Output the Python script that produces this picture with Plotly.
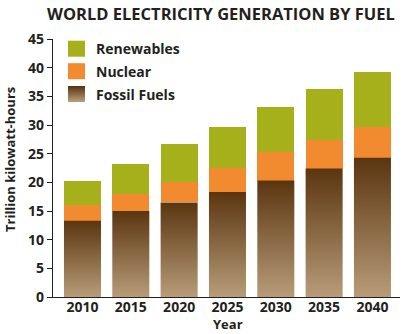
import plotly.graph_objects as go

years = ["2010", "2015", "2020", "2025", "2030", "2035", "2040"]
fossil = [13.3, 15.0, 16.5, 18.3, 20.3, 22.4, 24.3]
nuclear = [2.7, 2.9, 3.5, 4.2, 5.0, 5.0, 5.3]
renewables = [4.2, 5.3, 6.7, 7.2, 7.8, 8.8, 9.6]
yticks = [0, 5, 10, 15, 20, 25, 30, 35, 40, 45]

C_REN = "#a6b01a"
C_NUC = "#f28a30"
C_TOP = "#5a3510"
C_BOT = "#b89c78"
FONT = "Open Sans"
TXT = "#231f20"
W = 0.766

pos = list(range(len(years)))
fig = go.Figure()

# fossil bars with vertical gradient
for i, v in zip(pos, fossil):
    fig.add_trace(go.Scatter(
        x=[i - W / 2, i + W / 2, i + W / 2, i - W / 2, i - W / 2],
        y=[0, 0, v, v, 0],
        mode="lines", line=dict(width=0), fill="toself",
        fillgradient=dict(type="vertical", start=0, stop=v,
                          colorscale=[[0, C_BOT], [1, C_TOP]]),
        showlegend=False, hoverinfo="skip"))

base_n = fossil
fig.add_trace(go.Bar(x=pos, y=nuclear, base=base_n, width=W,
                     marker=dict(color=C_NUC, line=dict(width=0)), showlegend=False))
base_r = [f + n for f, n in zip(fossil, nuclear)]
fig.add_trace(go.Bar(x=pos, y=renewables, base=base_r, width=W,
                     marker=dict(color=C_REN, line=dict(width=0)), showlegend=False))

# plot area in pixels
L, R, T, B = 53, 400, 39, 297
def px(p):
    return (p - L) / (R - L)
def py(p):
    return (B - p) / (B - T)

shapes = []
ann = []
legend_items = [("Renewables", C_REN, 40.7), ("Nuclear", C_NUC, 63.2), ("Fossil Fuels", None, 86.0)]
for name, col, top in legend_items:
    x0, x1 = 68, 85
    h = 16
    if col:
        shapes.append(dict(type="rect", xref="paper", yref="paper",
                           x0=px(x0), x1=px(x1), y0=py(top + h), y1=py(top),
                           fillcolor=col, line=dict(width=0), layer="above"))
    else:
        n = 16
        def hx(c):
            return [int(c[k:k + 2], 16) for k in (1, 3, 5)]
        a, b = hx(C_TOP), hx(C_BOT)
        for k in range(n):
            t = k / (n - 1)
            c = [round(a[j] + (b[j] - a[j]) * t) for j in range(3)]
            shapes.append(dict(type="rect", xref="paper", yref="paper",
                               x0=px(x0), x1=px(x1),
                               y0=py(top + h * (k + 1) / n), y1=py(top + h * k / n),
                               fillcolor="rgb(%d,%d,%d)" % tuple(c), line=dict(width=0),
                               layer="above"))
    ann.append(dict(text="<b>%s</b>" % name, xref="paper", yref="paper",
                    x=px(94), y=py(top + h / 2), xanchor="left", yanchor="middle",
                    showarrow=False, font=dict(family=FONT, size=14, color=TXT)))

ann.append(dict(text="<b>WORLD ELECTRICITY GENERATION BY FUEL</b>", xref="paper", yref="paper",
                x=px(221), y=py(13), xanchor="center", yanchor="middle", showarrow=False,
                font=dict(family=FONT, size=16.5, color=TXT)))
ann.append(dict(text="<b>Trillion kilowatt-hours</b>", xref="paper", yref="paper",
                x=px(10), y=py(160), xanchor="center", yanchor="middle", textangle=-90,
                showarrow=False, font=dict(family=FONT, size=13, color=TXT)))
ann.append(dict(text="<b>Year</b>", xref="paper", yref="paper",
                x=px(228), y=py(334), xanchor="center", yanchor="bottom", borderpad=0,
                showarrow=False, font=dict(family=FONT, size=13, color=TXT)))

fig.update_layout(
    width=404, height=334,
    margin=dict(l=L, r=404 - R, t=T, b=334 - B, pad=0),
    paper_bgcolor="white", plot_bgcolor="white",
    barmode="overlay", bargap=0,
    shapes=shapes, annotations=ann,
    xaxis=dict(range=[-0.61, 6.57], tickvals=pos, ticktext=["<b>%s</b>" % y for y in years],
               showgrid=False, zeroline=False, showline=True, linecolor=TXT, linewidth=1.3,
               ticks="", ticklabelstandoff=-3,
               tickfont=dict(family=FONT, size=14, color=TXT), fixedrange=True),
    yaxis=dict(range=[0, 45], tickvals=yticks, ticktext=["<b>%d</b>" % t for t in yticks],
               showgrid=False, zeroline=False, showline=True, linecolor=TXT, linewidth=1.3,
               ticks="outside", ticklen=5, tickcolor=TXT, tickwidth=1.3,
               tickfont=dict(family=FONT, size=14, color=TXT), fixedrange=True),
    showlegend=False,
)

fig.write_html("out.html")
